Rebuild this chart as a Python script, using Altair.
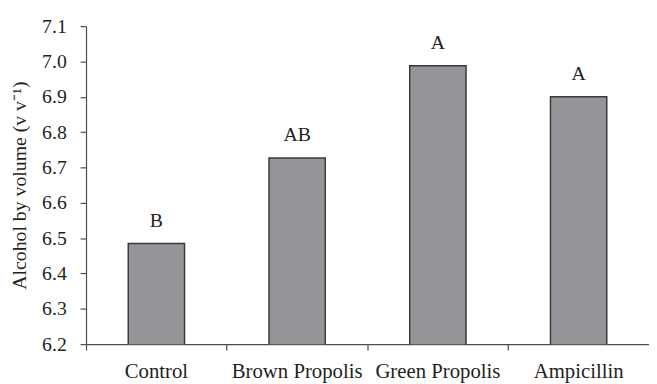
import altair as alt
import pandas as pd

categories = ["Control", "Brown Propolis", "Green Propolis", "Ampicillin"]
values = [6.485, 6.727, 6.988, 6.900]
letters = ["B", "AB", "A", "A"]
y_ticks = [6.2, 6.3, 6.4, 6.5, 6.6, 6.7, 6.8, 6.9, 7.0, 7.1]

df = pd.DataFrame({"cat": categories, "val": values, "lab": letters})

FONT = "Liberation Serif"
TXT = "#231f20"
AX = "#4d4d4d"

x_enc = alt.X("cat:N", sort=categories,
              scale=alt.Scale(paddingInner=0, paddingOuter=0),
              axis=alt.Axis(title=None, labelAngle=0, bandPosition=0,
                            labelFontSize=21, labelPadding=11))
y_enc = alt.Y("val:Q",
              scale=alt.Scale(domain=[6.2, 7.1], nice=False, zero=False),
              axis=alt.Axis(title="Alcohol by volume (v v\u207b\u00b9)", values=y_ticks,
                            format=".1f", grid=False,
                            labelFontSize=20, labelPadding=14,
                            titleFontSize=20, titlePadding=12))

base = alt.Chart(df).encode(x=x_enc, y=y_enc)

bars = base.mark_bar(size=57, color="#939598", stroke="#3a3a3a",
                     strokeWidth=1.5, clip=True)

texts = base.mark_text(font=FONT, fontSize=20, color=TXT,
                       baseline="alphabetic", dy=-17).encode(text="lab:N")

chart = alt.layer(bars, texts).properties(
    width=570, height=322,
    background="white",
    autosize=alt.AutoSizeParams(type="none"),
    padding={"left": 79, "top": 16, "right": 0, "bottom": 38},
).configure_view(stroke=None).configure_axis(
    labelFont=FONT, titleFont=FONT, labelColor=TXT, titleColor=TXT,
    titleFontWeight="normal", labelOverlap=False, grid=False,
    tickSize=6, tickColor=AX, tickWidth=1.2, domainColor=AX, domainWidth=1.2,
).configure_text(font=FONT)

chart.save("out.html", embed_options={"renderer": "svg", "actions": False})
